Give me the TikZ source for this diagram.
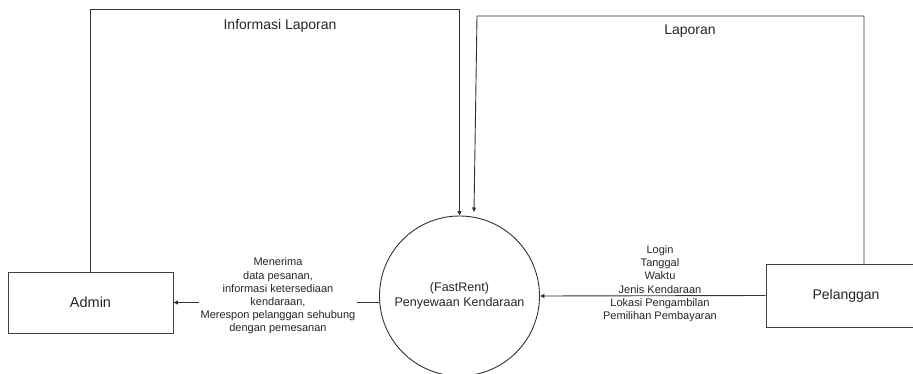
\documentclass[tikz,border=0pt]{standalone}
\usepackage{fontspec}
\setmainfont{Liberation Sans}
\usetikzlibrary{arrows.meta}
\begin{document}
\begin{tikzpicture}[x=1pt,y=-1pt,
  line/.style={draw=black!80,line width=0.9pt},
  flow/.style={line,-{Triangle[length=4.5pt,width=4pt]}},
  entity/.style={draw=black!75,line width=0.9pt,rectangle,inner sep=0pt,text=black!85},
  lbl/.style={text=black!85,align=center,inner sep=1pt},
  small/.style={font=\fontsize{11}{13.2}\selectfont}]
\useasboundingbox (0,0) rectangle (913,374);
\clip (0,0) rectangle (913,374);
\fill[white] (0,0) rectangle (913,374);
% entities and process
\node[entity,minimum width=165pt,minimum height=61pt,font=\fontsize{14.5}{17}\selectfont] (admin) at (90.5,302.5) {Admin};
\node[entity,minimum width=160pt,minimum height=63pt,font=\fontsize{14}{17}\selectfont] (pel) at (846,295.5) {Pelanggan};
\node[circle,draw=black!80,line width=0.9pt,minimum size=160pt,align=center,text=black!85,font=\fontsize{12.5}{15}\selectfont] (proc) at (459.5,296) {(FastRent)\\Penyewaan Kendaraan};
% top flows
\coordinate (a1) at (91,9);
\coordinate (a2) at (459.5,9);
\draw[flow] (admin.north) -- (admin.north |- a1) -- (a2) -- (proc.north);
\coordinate (p1) at (864,16);
\coordinate (p2) at (477,16);
\coordinate (p3) at (474,212);
\draw[flow] (pel.north -| p1) -- (p1) -- (p2) -- (p3);
\node[lbl,font=\fontsize{14}{17}\selectfont] (linfo) at (280,26) {Informasi Laporan};
\node[lbl,font=\fontsize{14}{17}\selectfont] (llap) at (690,31) {Laporan};
% horizontal flows
\draw[flow] (pel.west) -- (proc.east);
\node[lbl,small] (lright) at (660,283.7) {Login\\Tanggal\\Waktu\\Jenis Kendaraan\\Lokasi Pengambilan\\Pemilihan Pembayaran};
\draw[flow] (proc.west |- admin.east) -- (admin.east);
\node[lbl,small,fill=white,inner xsep=2pt] (lleft) at (278,296) {Menerima\\data pesanan,\\informasi ketersediaan\\kendaraan,\\Merespon pelanggan sehubung\\dengan pemesanan};
\end{tikzpicture}
\end{document}
